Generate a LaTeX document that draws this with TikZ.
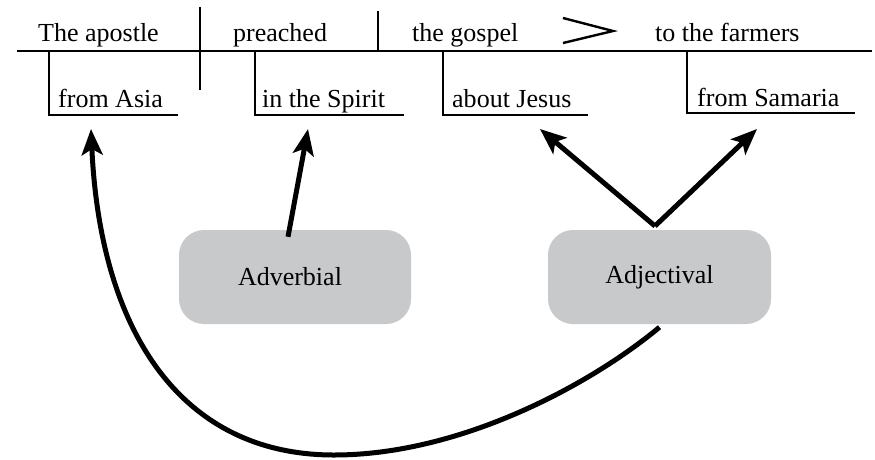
\documentclass[tikz,border=0pt]{standalone}
\usepackage{fontspec}
\setmainfont{Liberation Serif}
\usetikzlibrary{arrows.meta}
\definecolor{boxgray}{HTML}{C8C9CB}
\begin{document}
\begin{tikzpicture}[x=1pt,y=-1pt,
  font=\fontsize{26}{30}\selectfont,
  word/.style={inner sep=0pt, anchor=base west},
  diag/.style={line width=2.4pt},
  catbox/.style={fill=boxgray, rounded corners=25pt, minimum width=#1, minimum height=94pt, inner sep=0pt},
  arr/.style={line width=5pt, -{Stealth[length=26pt,width=21pt,inset=6pt]}}]
\useasboundingbox (0,0) rectangle (875,459);

% main line words
\node[word] (subj) at (38,41) {The apostle};
\node[word] (verb) at (233,41) {preached};
\node[word] (obj) at (412,41) {the gospel};
\node[word] (iobj) at (655,41) {to the farmers};

% modifiers
\node[word] (asia) at (58,107) {from Asia};
\node[word] (spirit) at (262,107) {in the Spirit};
\node[word] (jesus) at (452,107) {about Jesus};
\node[word] (samaria) at (697,106) {from Samaria};

% diagram lines
\draw[diag] (17,51) -- (872,51);
\draw[diag] (200,7) -- (200,90);
\draw[diag] (378,11) -- (378,51);
\draw[diag] (563,18) -- (613,31) -- (563,43);
\draw[diag] (49,51) -- (49,115) -- (178,115);
\draw[diag] (255,51) -- (255,115) -- (404,115);
\draw[diag] (443,51) -- (443,115) -- (588,115);
\draw[diag] (687,51) -- (687,113) -- (855,113);

% category boxes
\node[catbox=232pt] (adv) at (295,277) {\hspace*{-10pt}Adverbial};
\node[catbox=223pt] (adj) at (659.5,277) {Adjectival};

% arrow targets
\coordinate (asiatip) at (91,129);
\coordinate (spirittip) at (308,129);
\coordinate (jesustip) at (540,129);
\coordinate (samariatip) at (757,129);
\coordinate (vee) at (655,226);

\draw[arr] ([xshift=-7pt,yshift=-7pt]adv.north) -- (spirittip);
\draw[arr] (vee) -- (jesustip);
\draw[arr] (vee) -- (samariatip);
\draw[arr] ([yshift=-3pt]adj.south) .. controls (590,385) and (460,455) .. (334,455)
  .. controls (180,455) and (100,330) .. (asiatip);
\end{tikzpicture}
\end{document}
